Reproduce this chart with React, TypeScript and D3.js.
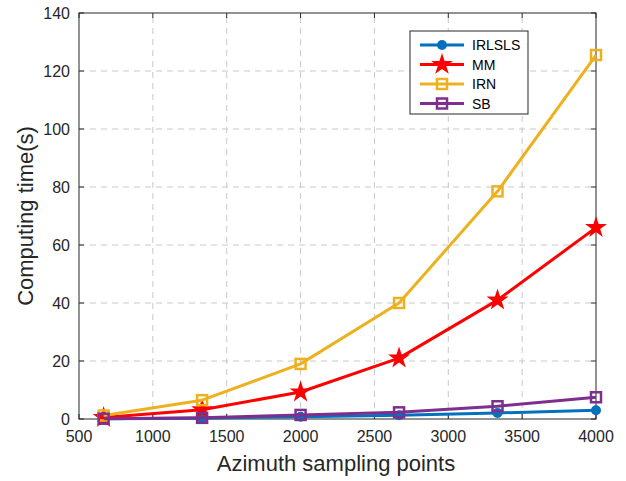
import * as d3 from "d3";
import { useRef, useEffect } from "react";

const xPoints = [666.7, 1333.3, 2000, 2666.7, 3333.3, 4000];
const irlsls = [0.1, 0.3, 0.8, 1.3, 2.1, 3.0];
const mm = [0.5, 3.2, 9.3, 21, 41, 66];
const irn = [1.2, 6.5, 19, 40, 78.5, 125.5];
const sb = [0.1, 0.4, 1.4, 2.3, 4.4, 7.5];
const xTicks = [500, 1000, 1500, 2000, 2500, 3000, 3500, 4000];
const yTicks = [0, 20, 40, 60, 80, 100, 120, 140];

const series = [
  { name: "IRLSLS", values: irlsls, color: "#0072BD", marker: "circle" },
  { name: "MM", values: mm, color: "#FF0000", marker: "star" },
  { name: "IRN", values: irn, color: "#EDB120", marker: "square" },
  { name: "SB", values: sb, color: "#7E2F8E", marker: "square" },
];

const W = 626;
const H = 481;

export default function App() {
  const svgRef = useRef<SVGSVGElement>(null);

  useEffect(() => {
    if (!svgRef.current) return;
    const svg = d3.select(svgRef.current);
    svg.selectAll("*").remove();

    const m = { left: 79, right: 30, top: 13, bottom: 62 };
    const x = d3.scaleLinear().domain([500, 4000]).range([m.left, W - m.right]);
    const y = d3.scaleLinear().domain([0, 140]).range([H - m.bottom, m.top]);
    const font = "'Liberation Sans', Arial, sans-serif";
    const axisColor = "#262626";

    svg.append("rect").attr("width", W).attr("height", H).attr("fill", "#fff");

    // grid
    const grid = svg.append("g").attr("stroke", "#c8c8c8").attr("stroke-width", 1).attr("stroke-dasharray", "6,5");
    xTicks.slice(1, -1).forEach((t) => {
      grid.append("line").attr("x1", x(t)).attr("x2", x(t)).attr("y1", y(0)).attr("y2", y(140));
    });
    yTicks.slice(1, -1).forEach((t) => {
      grid.append("line").attr("x1", x(500)).attr("x2", x(4000)).attr("y1", y(t)).attr("y2", y(t));
    });

    // box
    svg.append("rect")
      .attr("x", x(500)).attr("y", y(140))
      .attr("width", x(4000) - x(500)).attr("height", y(0) - y(140))
      .attr("fill", "none").attr("stroke", axisColor).attr("stroke-width", 1);

    // ticks inside
    const tk = svg.append("g").attr("stroke", axisColor).attr("stroke-width", 1);
    xTicks.forEach((t) => {
      tk.append("line").attr("x1", x(t)).attr("x2", x(t)).attr("y1", y(0)).attr("y2", y(0) - 5);
      tk.append("line").attr("x1", x(t)).attr("x2", x(t)).attr("y1", y(140)).attr("y2", y(140) + 5);
    });
    yTicks.forEach((t) => {
      tk.append("line").attr("x1", x(500)).attr("x2", x(500) + 5).attr("y1", y(t)).attr("y2", y(t));
      tk.append("line").attr("x1", x(4000)).attr("x2", x(4000) - 5).attr("y1", y(t)).attr("y2", y(t));
    });

    // tick labels
    xTicks.forEach((t) => {
      svg.append("text").attr("x", x(t)).attr("y", y(0) + 23)
        .attr("text-anchor", "middle").attr("font-family", font).attr("font-size", 16)
        .attr("fill", axisColor).text(t);
    });
    yTicks.forEach((t) => {
      svg.append("text").attr("x", x(500) - 9).attr("y", y(t) + 6)
        .attr("text-anchor", "end").attr("font-family", font).attr("font-size", 16)
        .attr("fill", axisColor).text(t);
    });

    // axis labels
    svg.append("text").attr("x", 336).attr("y", 471)
      .attr("text-anchor", "middle").attr("font-family", font).attr("font-size", 22)
      .attr("fill", axisColor).text("Azimuth sampling points");
    svg.append("text")
      .attr("transform", `translate(33,${(y(0) + y(140)) / 2}) rotate(-90)`)
      .attr("text-anchor", "middle").attr("font-family", font).attr("font-size", 22)
      .attr("fill", axisColor).text("Computing time(s)");

    const star = d3.symbol().type(d3.symbolStar).size(150);
    const drawMarker = (g: any, kind: string, color: string, cx: number, cy: number) => {
      if (kind === "circle") {
        g.append("circle").attr("cx", cx).attr("cy", cy).attr("r", 5).attr("fill", color);
      } else if (kind === "star") {
        g.append("path").attr("d", star()).attr("transform", `translate(${cx},${cy})`).attr("fill", color);
      } else {
        g.append("rect").attr("x", cx - 5).attr("y", cy - 5).attr("width", 10).attr("height", 10)
          .attr("fill", "none").attr("stroke", color).attr("stroke-width", 2.5);
      }
    };

    const line = d3.line<number>().x((_, i) => x(xPoints[i])).y((d) => y(d));
    series.forEach((s) => {
      const g = svg.append("g");
      g.append("path").attr("d", line(s.values)).attr("fill", "none")
        .attr("stroke", s.color).attr("stroke-width", 3).attr("stroke-linejoin", "round");
      s.values.forEach((v, i) => drawMarker(g, s.marker, s.color, x(xPoints[i]), y(v)));
    });

    // legend
    const lg = svg.append("g");
    lg.append("rect").attr("x", 410).attr("y", 31).attr("width", 118).attr("height", 83)
      .attr("fill", "#fff").attr("stroke", axisColor).attr("stroke-width", 1);
    series.forEach((s, i) => {
      const ly = 45 + i * 19.5;
      lg.append("line").attr("x1", 420).attr("x2", 464).attr("y1", ly).attr("y2", ly)
        .attr("stroke", s.color).attr("stroke-width", 3);
      drawMarker(lg, s.marker, s.color, 442, ly);
      lg.append("text").attr("x", 472).attr("y", ly + 5).attr("font-family", font)
        .attr("font-size", 14).attr("fill", "#000").text(s.name);
    });
  }, []);

  return (
    <svg ref={svgRef} width={W} height={H}
      style={{ display: "block", position: "absolute", left: 0, top: 0 }} />
  );
}
